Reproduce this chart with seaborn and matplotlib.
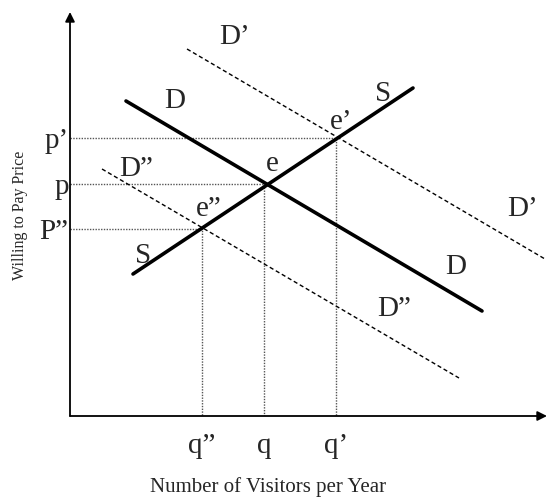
"""Supply and demand shifts for visitors vs willingness to pay."""
import matplotlib
matplotlib.use("Agg")
import matplotlib.pyplot as plt
import pandas as pd
import seaborn as sns

# equilibrium quantities and prices (axis units)
q_labels = ["q\u201d", "q", "q\u2019"]
q_vals = [132, 194, 266]
p_labels = ["P\u201d", "p", "p\u2019"]
p_vals = [187, 232, 278]

# curve end points
demand_x = [56, 412]
demand_y = [315, 105]
supply_x = [63, 343]
supply_y = [142, 328]
demand_hi_x = [117, 475]
demand_hi_y = [367, 157]
demand_lo_x = [32, 389]
demand_lo_y = [247, 38]

sns.set_style("white")
plt.rcParams["font.family"] = ["Liberation Serif", "DejaVu Serif"]

fig = plt.figure(figsize=(5.47, 4.99), dpi=100)
ax = fig.add_axes([70 / 547, 83 / 499, 477 / 547, 404 / 499])
ax.set_xlim(0, 477)
ax.set_ylim(0, 404)
for s in ax.spines.values():
    s.set_visible(False)

# guide lines from the axes to each equilibrium
for q, p in zip(q_vals, p_vals):
    guide = pd.DataFrame({"x": [0, q, q], "y": [p, p, 0]})
    sns.lineplot(data=guide, x="x", y="y", ax=ax, estimator=None, sort=False,
                 color="#555555", lw=1.0, linestyle=(0, (1, 1)))

curves = [
    (demand_hi_x, demand_hi_y, 1.0, (0, (3, 2))),
    (demand_lo_x, demand_lo_y, 1.0, (0, (3, 2))),
    (demand_x, demand_y, 2.6, "-"),
    (supply_x, supply_y, 2.6, "-"),
]
for xs, ys, lw, ls in curves:
    sns.lineplot(x=xs, y=ys, ax=ax, estimator=None, sort=False,
                 color="black", lw=lw, linestyle=ls)

# axes with arrows
arrow = dict(arrowstyle="-|>", color="black", lw=1.3, mutation_scale=14,
             shrinkA=0, shrinkB=0)
ax.annotate("", xy=(477, 0), xytext=(0, 0), arrowprops=arrow, annotation_clip=False)
ax.annotate("", xy=(0, 404), xytext=(0, 0), arrowprops=arrow, annotation_clip=False)

big = 21
labels = [
    ("D\u2019", 165, 379), ("D", 105, 315), ("D\u201d", 66, 247),
    ("e", 202, 252), ("e\u201d", 139, 207), ("S", 73, 160),
    ("e\u2019", 271, 294), ("S", 313, 322), ("D\u2019", 453, 207),
    ("D", 386, 149), ("D\u201d", 324, 107),
]
for txt, x, y in labels:
    ax.text(x, y, txt, fontsize=big, ha="center", va="center")

ax.set_xticks(q_vals, q_labels, fontsize=big)
ax.set_yticks(p_vals, p_labels, fontsize=big)
ax.set_xlabel("")
ax.set_ylabel("")
ax.tick_params(axis="x", length=0, pad=12)
ax.tick_params(axis="y", length=0, pad=1)

fig.text(268 / 547, 1 - 487 / 499, "Number of Visitors per Year",
         fontsize=15, ha="center", va="center")
fig.text(20 / 547, 1 - 215 / 499, "Willing to Pay Price", rotation=90,
         fontsize=11.5, ha="center", va="center")

fig.savefig("out.png", dpi=100)
